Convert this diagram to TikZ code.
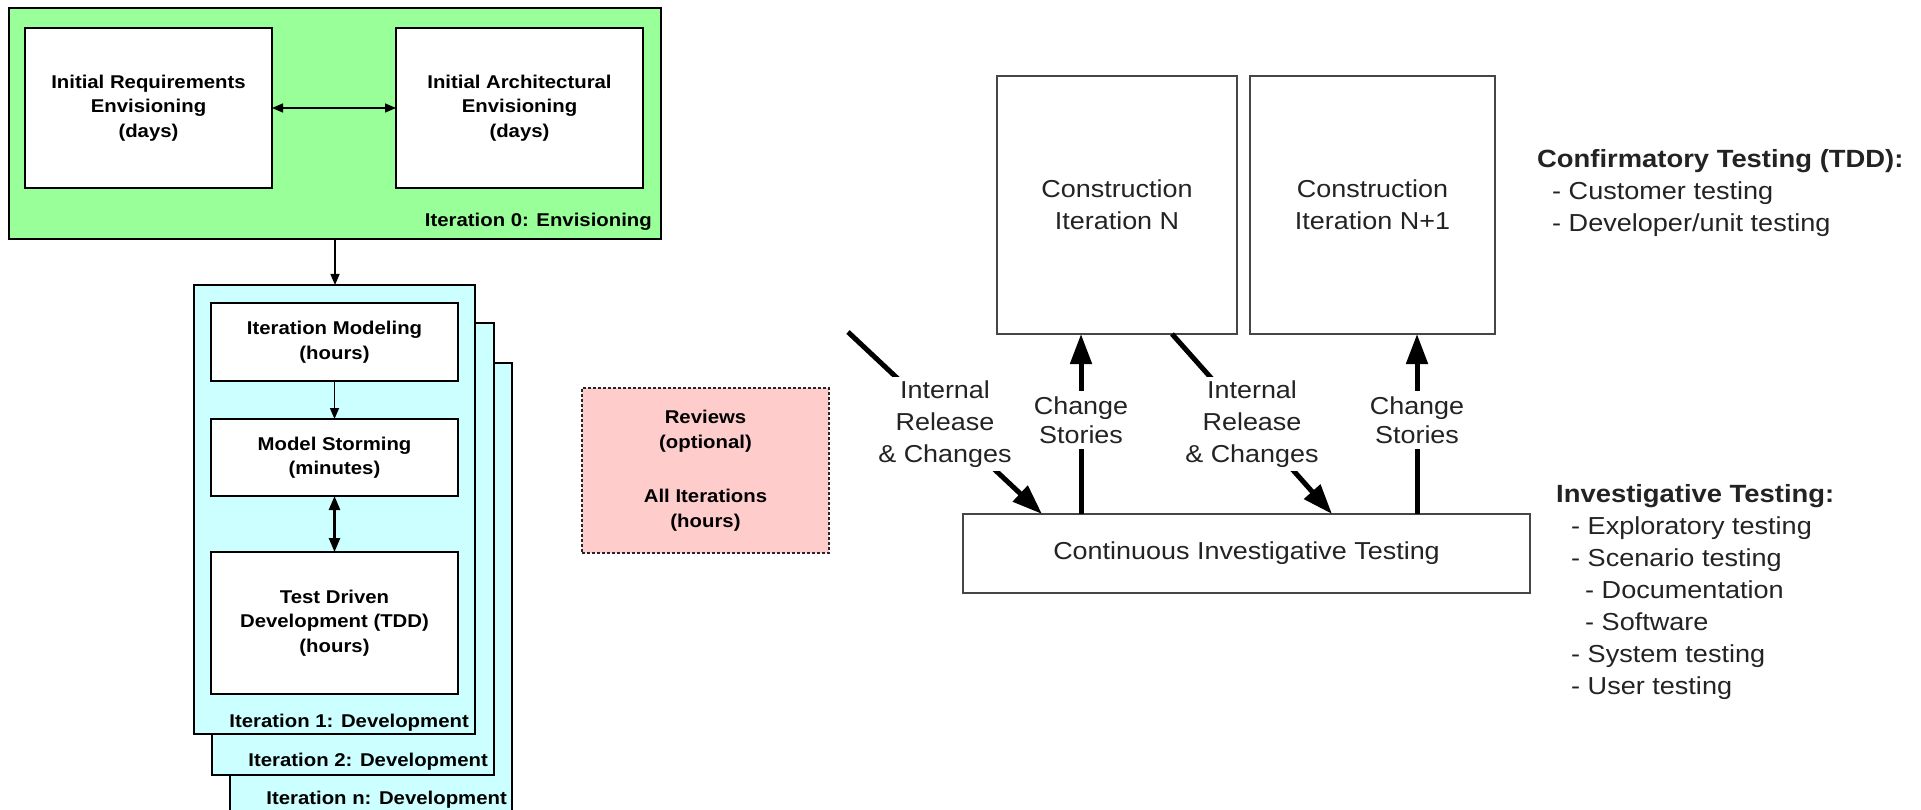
\documentclass[tikz,border=0pt]{standalone}
\usepackage{fontspec}
\setmainfont{Liberation Sans}[FakeStretch=1.1]
\usetikzlibrary{arrows.meta}
\definecolor{envgreen}{RGB}{153,255,153}
\definecolor{devcyan}{RGB}{204,255,255}
\definecolor{revpink}{RGB}{255,204,204}
\definecolor{ink}{RGB}{35,35,35}
\definecolor{rline}{RGB}{70,70,70}
\tikzset{
  box/.style={draw=black, line width=1.5pt, inner sep=0pt, outer sep=0pt, anchor=north west, align=center},
  rbox/.style={box, draw=rline, fill=white},
  lfont/.style={font=\fontsize{18.5pt}{24.5pt}\selectfont\bfseries},
  rfont/.style={font=\fontsize{24.5pt}{32pt}\selectfont, text=ink, align=center},
  csfont/.style={font=\fontsize{24.5pt}{29pt}\selectfont, text=ink, align=center},
  headfont/.style={font=\fontsize{24.9pt}{32pt}\selectfont\bfseries, text=ink, anchor=base west, inner sep=0pt},
  itemfont/.style={font=\fontsize{24.6pt}{32pt}\selectfont, text=ink, anchor=base west, inner sep=0pt},
  itlabel/.style={lfont, anchor=base east, inner sep=0pt},
  thinarrow/.style={line width=1.5pt, -{Triangle[width=9pt,length=11pt]}},
  dblarrow/.style={line width=1.5pt, {Triangle[width=9pt,length=11pt]}-{Triangle[width=9pt,length=11pt]}},
  dblarrowb/.style={line width=2.5pt, {Triangle[width=11pt,length=14pt]}-{Triangle[width=11pt,length=14pt]}},
  bigarrow/.style={line width=5pt, draw=black, -{Triangle[width=21pt,length=30pt]}},
  whitelbl/.style={fill=white, inner xsep=3pt, inner ysep=5pt}
}
\begin{document}
\begin{tikzpicture}[x=1pt,y=-1pt]
\useasboundingbox (0,0) rectangle (1921,810);
\fill[white] (0,0) rectangle (1921,810);

% Iteration 0
\node[box, fill=envgreen, minimum width=652pt, minimum height=231pt] (env) at (9,8) {};
\node[box, fill=white, lfont, minimum width=247pt, minimum height=160pt] (ire) at (25,28) {Initial Requirements\\Envisioning\\(days)};
\node[box, fill=white, lfont, minimum width=247pt, minimum height=160pt] (iae) at (396,28) {Initial Architectural\\Envisioning\\(days)};
\node[itlabel] (envlbl) at (652,227) {Iteration 0: Envisioning};
\draw[dblarrow] (ire.east) -- (iae.west);

% Development iterations
\node[box, fill=devcyan, minimum width=282pt, minimum height=460pt] (it3) at (230,363) {};
\node[box, fill=devcyan, minimum width=282pt, minimum height=452pt] (it2) at (212,323) {};
\node[box, fill=devcyan, minimum width=281pt, minimum height=449pt] (it1) at (194,285) {};
\node[itlabel] (it1lbl) at (469,727) {Iteration 1: Development};
\node[itlabel] (it2lbl) at (488,766) {Iteration 2: Development};
\node[itlabel] (it3lbl) at (507,804) {Iteration n: Development};

\node[box, fill=white, lfont, minimum width=247pt, minimum height=78pt] (im) at (211,303) {Iteration Modeling\\(hours)};
\node[box, fill=white, lfont, minimum width=247pt, minimum height=77pt] (ms) at (211,419) {Model Storming\\(minutes)};
\node[box, fill=white, lfont, minimum width=247pt, minimum height=142pt] (tdd) at (211,552) {Test Driven\\Development (TDD)\\(hours)};

\draw[thinarrow] (env.south) -- (env.south |- it1.north);
\draw[thinarrow] (im.south) -- (ms.north);
\draw[dblarrowb] (ms.south) -- (tdd.north);

% Reviews
\node[box, draw=black!85, dash pattern=on 3pt off 2pt, fill=revpink, lfont, minimum width=247pt, minimum height=165pt] (rev) at (582,388) {Reviews\\(optional)\\[30pt]All Iterations\\(hours)};

% Construction
\node[rbox, rfont, minimum width=240pt, minimum height=258pt] (cn) at (997,76) {Construction\\Iteration N};
\node[rbox, rfont, minimum width=245pt, minimum height=258pt] (cn1) at (1250,76) {Construction\\Iteration N+1};
\node[rbox, rfont, minimum width=567pt, minimum height=79pt] (cit) at (963,514) {Continuous Investigative Testing};

\coordinate (xa) at (1081,0);
\coordinate (xb) at (1417,0);
\coordinate (xc) at (1042,0);
\coordinate (xd) at (1172,0);
\coordinate (xe) at (1332,0);
\coordinate (irs) at (848,332);

\draw[bigarrow] (cit.north -| xa) -- (cn.south -| xa);
\draw[bigarrow] (cit.north -| xb) -- (cn1.south -| xb);
\draw[bigarrow] (irs) -- (cit.north -| xc);
\draw[bigarrow] (cn.south -| xd) -- (cit.north -| xe);

\node[csfont, whitelbl, inner ysep=6pt] (cs1) at (1081,420) {Change\\Stories};
\node[csfont, whitelbl, inner ysep=6pt] (cs2) at (1417,420) {Change\\Stories};
\node[rfont, whitelbl, inner ysep=4pt] (ir1) at (945,424) {Internal\\Release\\\& Changes};
\node[rfont, whitelbl, inner ysep=4pt] (ir2) at (1252,424) {Internal\\Release\\\& Changes};

% Testing lists
\node[headfont] (ct) at (1537,168) {Confirmatory Testing (TDD):};
\node[itemfont] (ct1) at (1552,200) {- Customer testing};
\node[itemfont] (ct2) at (1552,232) {- Developer/unit testing};

\node[headfont] (iv) at (1556,502) {Investigative Testing:};
\node[itemfont] (iv1) at (1571,534) {- Exploratory testing};
\node[itemfont] (iv2) at (1571,566) {- Scenario testing};
\node[itemfont] (iv3) at (1585,598) {- Documentation};
\node[itemfont] (iv4) at (1585,630) {- Software};
\node[itemfont] (iv5) at (1571,662) {- System testing};
\node[itemfont] (iv6) at (1571,694) {- User testing};
\end{tikzpicture}
\end{document}
